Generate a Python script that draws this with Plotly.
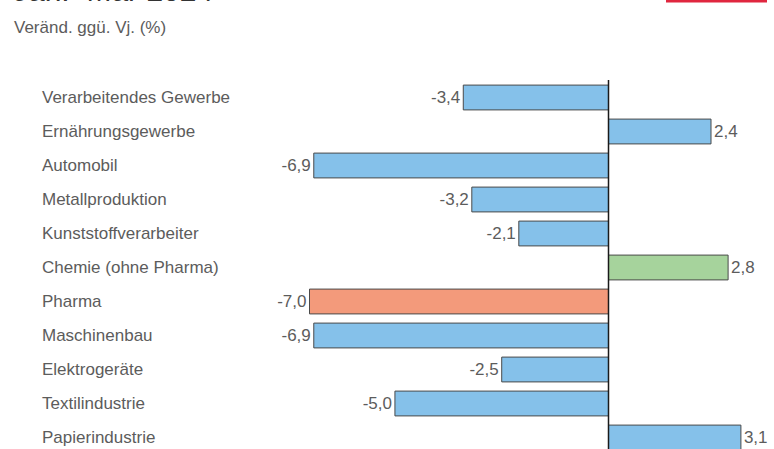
import plotly.graph_objects as go

categories = ["Verarbeitendes Gewerbe", "Ernährungsgewerbe", "Automobil", "Metallproduktion",
              "Kunststoffverarbeiter", "Chemie (ohne Pharma)", "Pharma", "Maschinenbau",
              "Elektrogeräte", "Textilindustrie", "Papierindustrie"]
values = [-3.4, 2.4, -6.9, -3.2, -2.1, 2.8, -7.0, -6.9, -2.5, -5.0, 3.1]
colors = ["#85C1EA", "#85C1EA", "#85C1EA", "#85C1EA", "#85C1EA", "#A6D39C",
          "#F39A7B", "#85C1EA", "#85C1EA", "#85C1EA", "#85C1EA"]
title = "Jan.–Mär 2024"
subtitle = "Veränd. ggü. Vj. (%)"

W, H = 774, 449
TOP = 80
FONT = "Liberation Sans"
GRAY = "#5c5c5c"

fig = go.Figure(go.Bar(
    y=categories, x=values, orientation="h",
    marker=dict(color=colors, line=dict(color="#4a4a4a", width=1)),
    width=0.73,
    texttemplate="%{x:.1f}", textposition="outside", cliponaxis=False,
    constraintext="none",
    textfont=dict(family=FONT, size=17, color=GRAY),
    hoverinfo="skip",
))

px_per_unit = 299 / 7.0
zero_px = 608.5
fig.update_xaxes(range=[-zero_px / px_per_unit, (W - zero_px) / px_per_unit],
                 showgrid=False, zeroline=False, showticklabels=False, ticks="")
fig.update_yaxes(type="category", categoryorder="array", categoryarray=categories,
                 range=[(H - 97.5) / 34, (TOP - 97.5) / 34],
                 showgrid=False, zeroline=False, showticklabels=False, ticks="")

annotations = []
for c in categories:
    annotations.append(dict(x=40 / W, xref="paper", y=c, yref="y", text=c,
                            xanchor="left", yanchor="middle", showarrow=False,
                            font=dict(family=FONT, size=17, color=GRAY)))
plot_h = H - TOP
def py(p):
    return (H - p) / plot_h
annotations.append(dict(x=11 / W, xref="paper", y=py(9), yref="paper", text=title,
                        xanchor="left", yanchor="bottom", showarrow=False,
                        font=dict(family=FONT, size=30, color="#333333")))
annotations.append(dict(x=12 / W, xref="paper", y=py(28), yref="paper", text=subtitle,
                        xanchor="left", yanchor="middle", showarrow=False,
                        font=dict(family=FONT, size=17, color=GRAY)))

shapes = [
    dict(type="line", xref="x", yref="paper", x0=0, x1=0, y0=0, y1=1,
         line=dict(color="#1a1a1a", width=1.5), layer="above"),
    dict(type="rect", xref="paper", yref="paper", x0=666 / W, x1=767 / W,
         y0=py(2.5), y1=py(-20), fillcolor="#E0263F", line=dict(width=0), layer="above"),
]

fig.update_layout(
    width=W, height=H, margin=dict(l=0, r=0, t=TOP, b=0, pad=0),
    plot_bgcolor="white", paper_bgcolor="white",
    separators=",.", showlegend=False,
    annotations=annotations, shapes=shapes,
    font=dict(family=FONT, size=17, color=GRAY),
)

fig.write_html("out.html", config={"displayModeBar": False},
               post_script="document.body.style.margin='0';document.body.style.overflow='hidden';")
